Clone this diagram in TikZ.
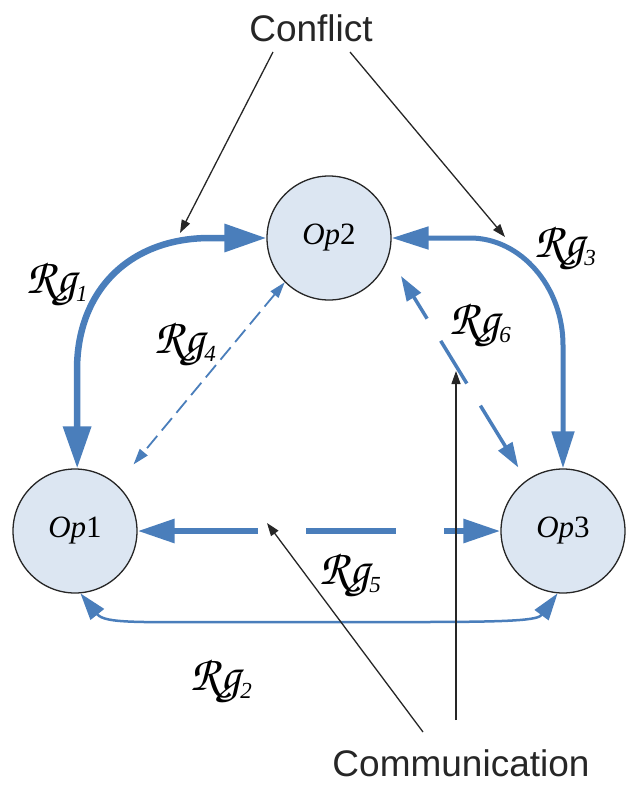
\documentclass[tikz,border=0pt]{standalone}
\usepackage[T1]{fontenc}
\usepackage{fontspec}
\newfontfamily\sansf{Liberation Sans}
\newfontfamily\serf{Liberation Serif}
\usetikzlibrary{arrows.meta}
\definecolor{arrblue}{HTML}{4A7EBB}
\definecolor{opfill}{HTML}{DCE6F2}
\newcommand{\rglab}[1]{{\usefont{T1}{pzc}{m}{it}\fontsize{50}{50}\selectfont Rg}{\serf\itshape\fontsize{23}{23}\selectfont\raisebox{-8pt}{#1}}}
\begin{document}
\begin{tikzpicture}[x=1pt,y=-1pt,
  opnode/.style={circle, draw=black!85, line width=1.3pt, fill=opfill, minimum size=124pt, inner sep=0pt, font=\serf\fontsize{31}{31}\selectfont},
  rgl/.style={inner sep=0pt, text=black},
  lbl/.style={inner sep=0pt, font=\sansf\fontsize{37}{37}\selectfont, text=black!85},
  bigarr/.style={draw=arrblue, line width=6.5pt, {Triangle[length=42pt,width=27pt]}-{Triangle[length=42pt,width=27pt]}},
  midarr/.style={draw=arrblue, line width=5pt, {Triangle[length=37pt,width=22pt]}-{Triangle[length=37pt,width=22pt]}},
  dasharr/.style={draw=arrblue, line width=6pt, dash pattern=on 90pt off 48pt, dash phase=5pt, {Triangle[length=37pt,width=23pt]}-{Triangle[length=37pt,width=23pt]}},
  thinarr/.style={draw=arrblue, line width=2.5pt, {Triangle[length=27pt,width=17pt]}-{Triangle[length=27pt,width=17pt]}},
  finedash/.style={draw=arrblue, line width=1.8pt, dash pattern=on 16pt off 7pt, {Triangle[length=16pt,width=10pt]}-{Triangle[length=16pt,width=10pt]}},
  meddash/.style={draw=arrblue, line width=3.5pt, dash pattern=on 50pt off 26pt, dash phase=24pt, {Triangle[length=25pt,width=16pt]}-{Triangle[length=25pt,width=16pt]}},
  pointer/.style={draw=black!85, line width=1.3pt, -{Triangle[length=13pt,width=9pt]}}
]
\useasboundingbox (0,0) rectangle (629,793);

% operator nodes
\node[opnode] (op1) at (75,531) {\textit{Op}1};
\node[opnode] (op2) at (329,238) {\textit{Op}2};
\node[opnode] (op3) at (563,531) {\textit{Op}3};

% labels
\node[lbl] (conflict) at (311,28) {Conflict};
\node[lbl] (comm) at (461,763) {Communication};
\node[rgl] (rg1) at (57,285) {\rglab{1}};
\node[rgl] (rg2) at (221,682) {\rglab{2}};
\node[rgl] (rg3) at (565,249) {\rglab{3}};
\node[rgl] (rg4) at (185,345) {\rglab{4}};
\node[rgl] (rg5) at (350,576) {\rglab{5}};
\node[rgl] (rg6) at (480,326) {\rglab{6}};

% relation arrows
\draw[bigarr] (op1.88) -- (77,370) .. controls (77,290) and (130,238) .. (210,238) -- (op2.west);
\draw[midarr] (op2.east) -- (470,238) .. controls (521,238) and (563,287) .. (563,345) -- (op3.north);
\draw[thinarr] (op1.-85) .. controls (105,624) and (140,622) .. (240,622) -- (420,622) .. controls (515,622) and (538,620) .. (op3.-95);
\draw[finedash, shorten >=26pt] (op2.225) -- (op1.48);
\draw[dasharr] (op1.east) -- (op3.west);
\draw[meddash, shorten <=23pt, shorten >=15pt] (op2.-17) -- (op3.126);

% pointer arrows
\coordinate (cf1s) at (273,52);
\coordinate (cf1e) at (180,233);
\coordinate (cf2s) at (350,52);
\coordinate (cf2e) at (505,237);
\coordinate (cm1s) at (423,732);
\coordinate (cm1e) at (267,523);
\coordinate (cm2s) at (456,720);
\coordinate (cm2e) at (456,371);
\draw[pointer] (cf1s) -- (cf1e);
\draw[pointer] (cf2s) -- (cf2e);
\draw[pointer] (cm1s) -- (cm1e);
\draw[pointer] (cm2s) -- (cm2e);
\end{tikzpicture}
\end{document}
